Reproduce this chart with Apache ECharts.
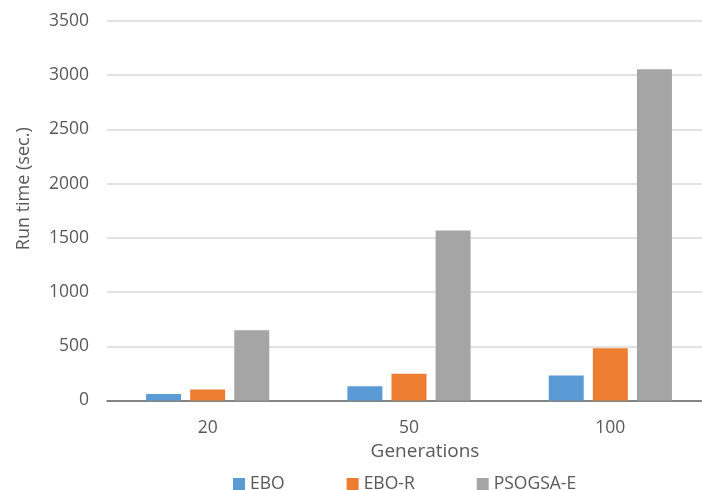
<!DOCTYPE html>
<html>
<head>
<meta charset="utf-8">
<script src="https://cdn.jsdelivr.net/npm/echarts@6/dist/echarts.min.js"></script>
<style>
  html, body { margin: 0; padding: 0; background: #fff; overflow: hidden; }
  /* plot area runs slightly past the right edge of the window */
  #chart { width: 720px; height: 490px; }
</style>
</head>
<body>
<div id="chart"></div>
<script>
// Run time per number of generations for three algorithms
const generations = ['20', '50', '100'];
const seriesNames = ['EBO', 'EBO-R', 'PSOGSA-E'];
const eboTimes = [61, 132, 231];
const eboRTimes = [101, 246, 483];
const psogsaETimes = [649, 1567, 3055];
const yTicks = [0, 500, 1000, 1500, 2000, 2500, 3000, 3500];

const colors = ['#5B9BD5', '#ED7D31', '#A5A5A5'];
const font = 'Open Sans';
const textColor = '#595959';

const chart = echarts.init(document.getElementById('chart'), null, { renderer: 'canvas' });

const seriesData = [eboTimes, eboRTimes, psogsaETimes];

chart.setOption({
  animation: false,
  backgroundColor: '#ffffff',
  color: colors,
  textStyle: { fontFamily: font },
  grid: { left: 107, top: 21, width: 604, bottom: 89.5, containLabel: false },
  legend: {
    data: seriesNames,
    left: 228,
    top: 470,
    icon: 'rect',
    itemWidth: 12,
    itemHeight: 12,
    itemGap: 62,
    textStyle: { fontFamily: font, fontSize: 17.5, color: textColor }
  },
  xAxis: {
    type: 'category',
    data: generations,
    name: 'Generations',
    nameLocation: 'middle',
    nameGap: 38,
    nameTextStyle: { fontFamily: font, fontSize: 19, color: textColor, padding: [0, 0, 0, 32] },
    axisLine: { lineStyle: { color: '#666666', width: 1.5 } },
    axisTick: { show: false },
    axisLabel: { margin: 19, fontFamily: font, fontSize: 17.5, color: textColor }
  },
  yAxis: {
    type: 'value',
    min: yTicks[0],
    max: yTicks[yTicks.length - 1],
    interval: yTicks[1] - yTicks[0],
    name: 'Run time (sec.)',
    nameLocation: 'middle',
    nameGap: 74,
    nameTextStyle: { fontFamily: font, fontSize: 18, color: textColor, padding: [0, 0, 0, 44] },
    axisLine: { show: false },
    axisTick: { show: false },
    axisLabel: {
      margin: 18,
      fontFamily: font,
      fontSize: 17.5,
      color: textColor,
      formatter: (v) => String(v)
    },
    splitLine: { lineStyle: { color: '#D9D9D9', width: 1.5 } }
  },
  series: seriesNames.map((name, i) => ({
    name: name,
    type: 'bar',
    data: seriesData[i],
    barWidth: 35,
    barGap: '26%',
    itemStyle: { color: colors[i] }
  }))
});
</script>
</body>
</html>
